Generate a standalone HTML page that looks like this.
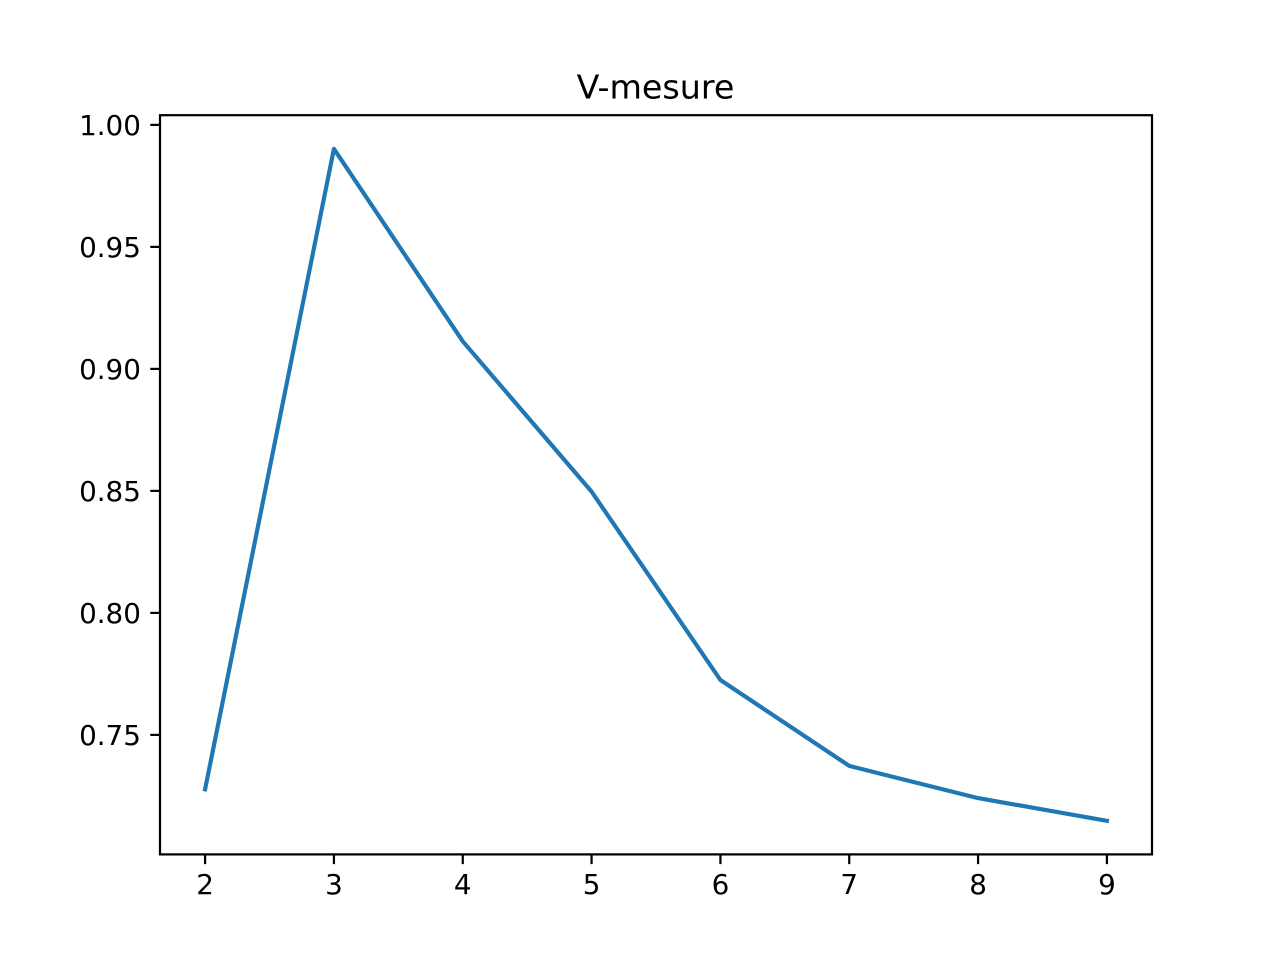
<!DOCTYPE html>
<html lang="en">
<head>
<meta charset="utf-8">
<title>V-mesure</title>
<style>
html,body{margin:0;padding:0;background:#fff;width:1280px;height:960px;overflow:hidden}
svg{display:block}
text{font-family:"DejaVu Sans","Liberation Sans",sans-serif;fill:#000}
</style>
</head>
<body>
<svg id="chart" width="1280" height="960" viewBox="0 0 1280 960" xmlns="http://www.w3.org/2000/svg">
  <rect x="0" y="0" width="1280" height="960" fill="#fff"/>
  <rect x="160" y="115.2" width="992" height="739.2" fill="#fff"/>
  <text x="655.5" y="98.5" font-size="33.33" text-anchor="middle">V-mesure</text>
  <g id="ticks"></g>
  <polyline id="series" fill="none" stroke="#1f77b4" stroke-width="4.17" stroke-linejoin="round" stroke-linecap="square"/>
  <rect x="160" y="115.2" width="992" height="739.2" fill="none" stroke="#000" stroke-width="2.22"/>
</svg>
<script>
const categories = [2, 3, 4, 5, 6, 7, 8, 9];
const vMesure = [0.7277, 0.9902, 0.9113, 0.8497, 0.7725, 0.7373, 0.7241, 0.7148];
const xTickLabels = ['2', '3', '4', '5', '6', '7', '8', '9'];
const yTickValues = [0.75, 0.80, 0.85, 0.90, 0.95, 1.00];
const yTickLabels = ['0.75', '0.80', '0.85', '0.90', '0.95', '1.00'];

const NS = 'http://www.w3.org/2000/svg';
const plot = { left: 160, right: 1152, top: 115.2, bottom: 854.4, margin: 0.05 };

function extent(values) {
  const lo = Math.min.apply(null, values);
  const hi = Math.max.apply(null, values);
  const pad = (hi - lo) * plot.margin;
  return [lo - pad, hi + pad];
}
const xDomain = extent(categories);
const yDomain = extent(vMesure);

function xScale(v) {
  return plot.left + (v - xDomain[0]) / (xDomain[1] - xDomain[0]) * (plot.right - plot.left);
}
function yScale(v) {
  return plot.bottom - (v - yDomain[0]) / (yDomain[1] - yDomain[0]) * (plot.bottom - plot.top);
}

const ticksGroup = document.getElementById('ticks');

function addLine(x1, y1, x2, y2) {
  const el = document.createElementNS(NS, 'line');
  el.setAttribute('x1', x1);
  el.setAttribute('y1', y1);
  el.setAttribute('x2', x2);
  el.setAttribute('y2', y2);
  el.setAttribute('stroke', '#000');
  el.setAttribute('stroke-width', '2.22');
  ticksGroup.appendChild(el);
  return el;
}
function addLabel(x, y, anchor, content) {
  const el = document.createElementNS(NS, 'text');
  el.setAttribute('x', x);
  el.setAttribute('y', y);
  el.setAttribute('font-size', '27.78');
  el.setAttribute('text-anchor', anchor);
  el.textContent = content;
  ticksGroup.appendChild(el);
  return el;
}

categories.forEach(function (c, i) {
  const x = xScale(c);
  const tick = addLine(x, plot.bottom, x, plot.bottom + 9.72);
  
  
  const label = addLabel(x, plot.bottom + 39.6, 'middle', xTickLabels[i]);
  
  
});

yTickValues.forEach(function (v, i) {
  const y = yScale(v);
  const tick = addLine(plot.left - 9.72, y, plot.left, y);
  
  
  const label = addLabel(plot.left - 19.1, y + 10.1, 'end', yTickLabels[i]);
  
  
});

document.getElementById('series').setAttribute('points', categories.map(function (c, i) {
  return xScale(c).toFixed(2) + ',' + yScale(vMesure[i]).toFixed(2);
}).join(' '));
</script>
</body>
</html>
